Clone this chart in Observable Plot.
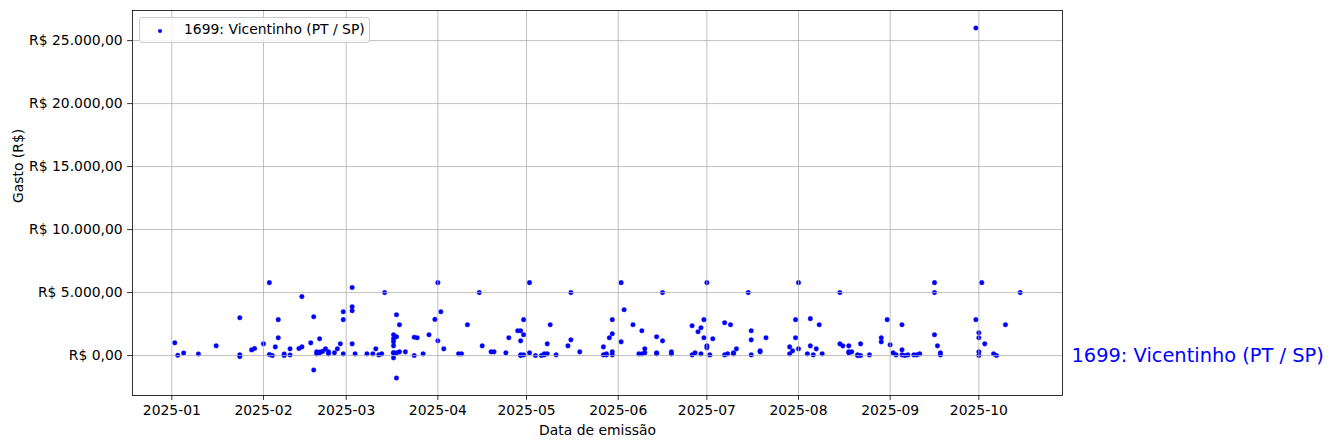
<!DOCTYPE html>
<html><head><meta charset="utf-8">
<script src="https://cdn.jsdelivr.net/npm/d3@7"></script>
<script src="https://cdn.jsdelivr.net/npm/@observablehq/plot@0.6"></script>
<style>
body{margin:0;background:#fff;}
#wrap{position:relative;width:1334px;height:448px;font-family:"DejaVu Sans",sans-serif;}
#legend{position:absolute;left:139px;top:17px;width:229px;height:24px;border:1px solid #cccccc;border-radius:3px;background:rgba(255,255,255,0.8);font-size:13.9px;color:#000;}
#legend .dot{position:absolute;left:17.5px;top:10.5px;width:4.6px;height:4.6px;border-radius:50%;background:blue;}
#legend .lbl{position:absolute;left:44px;top:3px;white-space:nowrap;line-height:17px;}
</style></head>
<body><div id="wrap"></div>
<script>
const seriesLabel = "1699: Vicentinho (PT / SP)";
const dates = [
"2025-01-02","2025-01-03","2025-01-05","2025-01-10","2025-01-16","2025-01-24","2025-01-24","2025-01-24","2025-01-28","2025-01-29",
"2025-02-01","2025-02-03","2025-02-03","2025-02-04","2025-02-05","2025-02-06","2025-02-06","2025-02-08","2025-02-08","2025-02-10","2025-02-10",
"2025-02-13","2025-02-14","2025-02-14","2025-02-17","2025-02-18","2025-02-18","2025-02-19","2025-02-19","2025-02-20","2025-02-20","2025-02-20",
"2025-02-21","2025-02-22","2025-02-23","2025-02-23","2025-02-25","2025-02-26","2025-02-27","2025-02-28","2025-02-28","2025-02-28",
"2025-03-03","2025-03-03","2025-03-03","2025-03-03","2025-03-04","2025-03-08","2025-03-10","2025-03-11","2025-03-12","2025-03-13","2025-03-14",
"2025-03-17","2025-03-17","2025-03-17","2025-03-17","2025-03-17","2025-03-17","2025-03-17",
"2025-03-18","2025-03-18","2025-03-18","2025-03-18","2025-03-19","2025-03-19",
"2025-03-21","2025-03-24","2025-03-24","2025-03-25","2025-03-27","2025-03-29","2025-03-31",
"2025-04-01","2025-04-01","2025-04-02","2025-04-03","2025-04-08","2025-04-09","2025-04-11","2025-04-15","2025-04-16","2025-04-19","2025-04-20",
"2025-04-24","2025-04-25","2025-04-28","2025-04-29","2025-04-29","2025-04-29","2025-04-29","2025-04-30","2025-04-30","2025-04-30",
"2025-05-02","2025-05-02","2025-05-04","2025-05-06","2025-05-07","2025-05-07","2025-05-08","2025-05-08","2025-05-09","2025-05-11",
"2025-05-15","2025-05-16","2025-05-16","2025-05-19","2025-05-27","2025-05-27","2025-05-28","2025-05-28","2025-05-29",
"2025-05-30","2025-05-30","2025-05-30","2025-05-30",
"2025-06-02","2025-06-02","2025-06-03","2025-06-06","2025-06-08","2025-06-09","2025-06-09","2025-06-10","2025-06-10",
"2025-06-14","2025-06-14","2025-06-14","2025-06-16","2025-06-16","2025-06-19","2025-06-19","2025-06-26","2025-06-26","2025-06-27",
"2025-06-28","2025-06-29","2025-06-29","2025-06-30","2025-06-30",
"2025-07-01","2025-07-01","2025-07-01","2025-07-02","2025-07-03","2025-07-07","2025-07-07","2025-07-08","2025-07-09","2025-07-10","2025-07-10",
"2025-07-11","2025-07-15","2025-07-16","2025-07-16","2025-07-16","2025-07-19","2025-07-19","2025-07-21","2025-07-29","2025-07-29","2025-07-30",
"2025-07-31","2025-07-31",
"2025-08-01","2025-08-01","2025-08-04","2025-08-05","2025-08-05","2025-08-06","2025-08-07","2025-08-08","2025-08-09","2025-08-15","2025-08-15",
"2025-08-16","2025-08-18","2025-08-18","2025-08-18","2025-08-19","2025-08-21","2025-08-21","2025-08-22","2025-08-22","2025-08-25",
"2025-08-29","2025-08-29","2025-08-31",
"2025-09-01","2025-09-02","2025-09-03","2025-09-05","2025-09-05","2025-09-05","2025-09-06","2025-09-07","2025-09-09","2025-09-10","2025-09-11",
"2025-09-16","2025-09-16","2025-09-16","2025-09-17","2025-09-18","2025-09-18","2025-09-30","2025-09-30",
"2025-10-01","2025-10-01","2025-10-01","2025-10-01","2025-10-02","2025-10-03","2025-10-06","2025-10-07","2025-10-10","2025-10-15"
];
const values = [
1010,20,210,130,770,3000,60,-80,450,560,
930,5790,80,0,690,2850,1410,130,0,50,535,
560,690,4680,1010,3080,-1140,295,135,1330,270,215,
330,535,295,135,215,535,930,3480,2850,135,
5400,3880,3560,930,135,135,135,535,55,135,5000,
1090,770,215,1330,1650,-180,215,
1490,215,3240,-1780,2450,295,
295,1460,0,1410,135,1650,2870,
5790,1170,3480,535,135,135,2450,5000,770,295,295,
215,1410,1970,0,1970,1170,55,2850,55,1650,
5790,215,0,0,55,135,135,930,2450,55,
770,1250,5000,295,690,55,135,55,1410,
1730,55,2850,295,
5790,1090,3640,2450,135,1970,135,215,535,
215,135,1490,5000,1170,295,135,2370,55,215,
1890,2210,135,2850,1410,
5790,770,615,55,1330,2610,55,135,2450,135,215,
535,5000,1250,1970,55,375,295,1410,690,135,375,
2850,1410,
5790,535,135,2930,770,55,535,2450,135,5000,930,
770,770,215,295,295,55,0,0,930,55,
1410,1090,2850,
850,215,55,2450,455,55,0,55,55,55,135,
5790,5000,1650,770,215,55,26000,2850,
1810,1410,295,0,5790,930,135,0,2450,5000
];
const monthTicks = ["2025-01-01","2025-02-01","2025-03-01","2025-04-01","2025-05-01","2025-06-01","2025-07-01","2025-08-01","2025-09-01","2025-10-01"];
const yTicks = [0, 5000, 10000, 15000, 20000, 25000];

const parse = d3.utcParse("%Y-%m-%d");
const data = dates.map((d, i) => ({date: parse(d), value: values[i]}));
const monthDates = monthTicks.map(parse);
const [xmin, xmax] = d3.extent(data, d => d.date);
const xpad = (xmax - xmin) * 0.05;
const xDomain = [new Date(+xmin - xpad), new Date(+xmax + xpad)];
const [ymin, ymax] = d3.extent(values);
const ypad = (ymax - ymin) * 0.05;
const brl = d3.formatLocale({decimal: ",", thousands: ".", grouping: [3], currency: ["R$ ", ""]}).format("$,.2f");
const gridStyle = {stroke: "#b0b0b0", strokeOpacity: 1, strokeWidth: 0.8};

const chart = Plot.plot({
  width: 1334, height: 448,
  marginLeft: 132, marginRight: 272, marginTop: 10, marginBottom: 53,
  style: {fontFamily: '"DejaVu Sans", sans-serif', fontSize: "13.9px", background: "white", color: "black", overflow: "visible"},
  x: {type: "utc", domain: xDomain},
  y: {domain: [ymin - ypad, ymax + ypad]},
  marks: [
    Plot.dot(data, {x: "date", y: "value", r: 2.3, fill: "blue", stroke: "blue", strokeWidth: 0.4}),
    Plot.gridX(monthDates, gridStyle),
    Plot.gridY(yTicks, gridStyle),
    Plot.frame({stroke: "black", strokeWidth: 0.8}),
    Plot.axisX(monthDates, {tickFormat: d3.utcFormat("%Y-%m"), tickSize: 4.9, tickPadding: 4.9, strokeWidth: 0.8, label: null}),
    Plot.axisY(yTicks, {tickFormat: brl, tickSize: 4.9, tickPadding: 4.9, strokeWidth: 0.8, label: null}),
    Plot.text(["Data de emissão"], {text: d => d, frameAnchor: "bottom", dy: 35, lineAnchor: "middle"}),
    Plot.text(["Gasto (R$)"], {text: d => d, frameAnchor: "left", dx: -114, rotate: -90}),
    Plot.text([seriesLabel], {text: d => d, x: () => xDomain[1], y: () => 0, textAnchor: "start", dx: 9, fill: "blue", fontSize: 19.4})
  ]
});
const wrap = document.getElementById("wrap");
wrap.appendChild(chart);
const legend = document.createElement("div");
legend.id = "legend";
legend.innerHTML = '<span class="dot"></span><span class="lbl"></span>';
legend.querySelector(".lbl").textContent = seriesLabel;
wrap.appendChild(legend);
</script>
</body></html>
